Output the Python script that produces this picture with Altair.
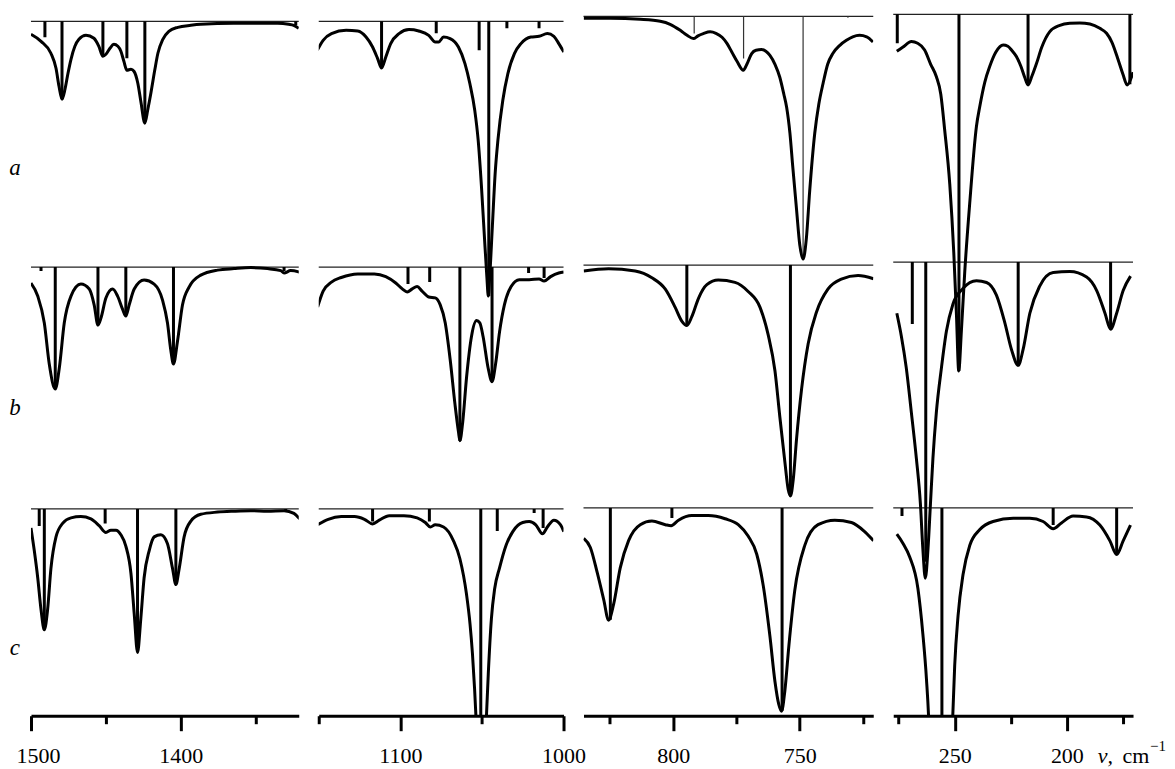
import altair as alt
import pandas as pd

# ---------------- data ----------------
# wavenumbers (cm^-1) and band depth below each spectrum's own zero line
# Panel 1 (1500-1320 cm-1)
P1A_V = [1500, 1493.3, 1486.7, 1483.3, 1481.3, 1479.3, 1477.3, 1475.3, 1473.3, 1470.7, 1468, 1463.3, 1458, 1454.7, 1452, 1450, 1447.3, 1444.7, 1442, 1440, 1438, 1436, 1433.3, 1431.3, 1428.7, 1426.7, 1424, 1422, 1420, 1417.3, 1415.3, 1412, 1408, 1402, 1393.3, 1386.7, 1364.7, 1346.7, 1335.3, 1328, 1324.7, 1321.3]
P1A_D = [13, 20, 32, 47, 65, 78, 68, 52, 38, 25, 18, 14, 17, 25, 35, 33, 27, 23, 25, 30, 40, 49, 48, 50, 62, 80, 102, 88, 72, 48, 32, 18, 10, 6, 4, 3, 2, 2, 2, 3, 4, 7]
P1B_V = [1500, 1495.5, 1491.1, 1487.8, 1483.8, 1481.1, 1477.8, 1473.3, 1466.7, 1461.1, 1457.8, 1455.3, 1453.3, 1450, 1445.5, 1442.2, 1438.9, 1436.7, 1434.5, 1431.1, 1424.5, 1417.8, 1412.2, 1408.9, 1406.7, 1404.9, 1402.2, 1398.9, 1394.5, 1386.7, 1375.5, 1364.5, 1353.3, 1342.2, 1333.3, 1331.1, 1326.7, 1320.7]
P1B_D = [16, 29, 56, 97, 122, 101, 56, 29, 17, 22, 38, 58, 51, 31, 22, 29, 42, 49, 38, 22, 13, 17, 33, 56, 83, 97, 74, 38, 20, 8, 3, 1.5, 0.5, 1.5, 3.5, 6, 3.5, 5]
P1C_V = [1500, 1497.8, 1495.5, 1493.3, 1491.1, 1488.9, 1486.7, 1483.3, 1478.9, 1473.3, 1466.7, 1460, 1454.5, 1450, 1446.7, 1443.3, 1440, 1436.7, 1433.3, 1431.1, 1428.9, 1426.7, 1424.5, 1421.1, 1417.8, 1413.3, 1408.9, 1405.5, 1403.3, 1401.1, 1397.8, 1393.3, 1386.7, 1375.5, 1364.5, 1353.3, 1342.2, 1331.1, 1324.5, 1320.7]
P1C_D = [19, 41.7, 68.9, 100.7, 121, 100.7, 59.8, 28, 14.5, 9, 7.7, 10, 16.8, 23.6, 21.3, 21.3, 25.8, 37.2, 64.4, 105, 143.7, 109.7, 68.9, 41.7, 28, 25.8, 34.9, 59.8, 75.7, 59.8, 28, 12.2, 5.4, 3.2, 2.3, 1.8, 2.3, 1.8, 4.5, 10]
P1A_SV = [1490.7, 1479.3, 1452, 1436, 1424, 1323.3]
P1A_SL = [16, 78, 35, 37, 100, 4]
P1B_SV = [1493.3, 1483.8, 1455.3, 1436.7, 1404.9, 1331.1]
P1B_SL = [4, 121, 56, 47, 97, 4]
P1C_SV = [1494.5, 1491.1, 1450.5, 1428.9, 1403.3, 1330]
P1C_SL = [17, 121, 14.5, 143, 75, 2]

# Panel 2 (1150-1000 cm-1)
P2A_V = [1150.9, 1147.3, 1142.2, 1133.2, 1126.1, 1121.0, 1117.0, 1113.9, 1111.5, 1108.9, 1105.9, 1100.8, 1094.7, 1088.7, 1082.6, 1078.6, 1076.5, 1073.5, 1069.5, 1064.4, 1060.4, 1057.4, 1054.4, 1052.3, 1050.3, 1048.5, 1047.0, 1046.1, 1045.2, 1043.6, 1041.8, 1040.2, 1037.2, 1034.1, 1030.1, 1026.1, 1020.0, 1015.0, 1009.9, 1005.9, 1002.9, 999.8]
P2A_D = [29, 19, 12.3, 9, 9.7, 15.7, 25.7, 37.3, 46.7, 35.7, 22.3, 12.3, 8.3, 9.7, 14, 20.7, 20.7, 15.7, 17.3, 25.7, 42.3, 62.3, 89, 119, 165, 215, 255, 275, 255, 205, 150, 119, 79, 52.3, 32.3, 22.3, 15.7, 15, 12.3, 15, 22.3, 30.7]
P2B_V = [1150.7, 1147.3, 1142.2, 1136.2, 1126.1, 1115.9, 1108.9, 1102.8, 1098.8, 1095.8, 1092.7, 1089.7, 1086.7, 1082.6, 1078.6, 1075.6, 1072.5, 1069.5, 1066.5, 1064.4, 1063.5, 1061.8, 1059.4, 1056.4, 1053.3, 1051.3, 1049.3, 1046.2, 1043.8, 1041.6, 1039.2, 1036.2, 1032.1, 1027.1, 1021.0, 1015.0, 1011.9, 1007.9, 1002.9, 999.8]
P2B_D = [40, 24, 15, 10.4, 6.8, 6.8, 9.5, 15.9, 21.8, 24.9, 21.8, 19.5, 24, 29.9, 30.8, 37.6, 55.8, 92, 137.4, 164.6, 173.7, 155.5, 110, 69.4, 53.5, 55.8, 69.4, 101, 114.7, 96.6, 64.8, 37.6, 19.5, 12.7, 12.7, 11.8, 14, 9.5, 5.9, 5]
P2C_V = [1150.7, 1144.2, 1136.2, 1128.1, 1122.0, 1117.0, 1112.9, 1106.8, 1097.8, 1089.7, 1084.7, 1081.6, 1078.6, 1073.5, 1067.5, 1063.5, 1059.4, 1057.3, 1055.8, 1054.5, 1053.6, 1052.7, 1048.2, 1047.3, 1046.1, 1044.2, 1042.2, 1039.2, 1035.2, 1031.1, 1025.0, 1021.0, 1017.0, 1012.9, 1009.9, 1005.9, 1001.8, 999.8]
P2C_D = [15.9, 10.4, 7.7, 7.7, 10.4, 15, 11.3, 6.8, 6.8, 9, 13.6, 18.1, 15.9, 18.1, 31.7, 49.9, 86, 115, 145, 180, 210, 240, 240, 210, 165, 110, 80, 59, 36.3, 22.7, 13.6, 12.7, 15.9, 24.9, 18.1, 11.3, 15.9, 22.7]
P2A_SV = [1111.5, 1078.0, 1051.7, 1045.8, 1034.7, 1015.0]
P2A_SL = [45, 12, 29, 275, 7, 7]
P2B_SV = [1095.3, 1082.0, 1063.5, 1043.8, 1021.4, 1011.9]
P2B_SL = [17, 15, 174, 114, 6, 11]
P2C_SV = [1117.0, 1082.2, 1050.7, 1040.6, 1018.0, 1012.5]
P2C_SL = [12.7, 12.7, 240, 22, 4, 19]

# Panel 3 (835-721 cm-1)
P3A_V = [835.3, 824.8, 813.0, 805.1, 801.2, 797.2, 794.5, 792.0, 790.2, 788.1, 785.4, 783.1, 780.7, 778.7, 776.8, 774.8, 772.3, 770.9, 769.0, 767.3, 765.1, 763.4, 761.8, 759.8, 757.9, 756.3, 755.2, 753.9, 752.8, 751.3, 750.0, 748.7, 747.4, 746.1, 744.1, 742.5, 740.8, 739.0, 736.9, 734.2, 731.6, 729.1, 726.4, 723.6, 721.1]
P3A_D = [2, 2, 3, 5, 8, 14, 19, 22.3, 19.5, 17.3, 15.5, 17, 21, 27.3, 36, 45, 54, 48, 37.3, 34, 33.3, 35, 39, 48, 61, 78, 91, 117, 150, 193, 229, 243, 222, 175, 117, 88, 67, 48, 37, 29, 24, 20.5, 19, 20.5, 25.7]
P3B_V = [835.3, 825.5, 815.0, 808.4, 803.1, 799.2, 796.6, 794.6, 792.6, 790.0, 786.7, 782.2, 775.6, 770.4, 765.7, 762.5, 759.8, 757.9, 755.9, 754.6, 753.7, 752.6, 751.3, 749.3, 746.7, 743.4, 738.9, 733.6, 727.0, 720.9]
P3B_D = [5.9, 3.6, 5.9, 12.7, 24.1, 42.3, 56, 60.5, 51.4, 33.2, 19.6, 15, 17.3, 26.4, 42.3, 69.6, 106, 151.5, 197, 224.3, 231, 215, 174.4, 124.2, 78.7, 46.9, 24.1, 14.1, 10.5, 13.7]
P3C_V = [835.3, 832.7, 830.0, 827.4, 825.5, 823.5, 820.9, 817.6, 813.0, 808.4, 803.1, 800.8, 797.9, 792.6, 786.1, 779.5, 774.3, 770.4, 767.0, 764.4, 761.8, 759.8, 758.3, 757.2, 755.9, 754.3, 752.0, 748.0, 742.8, 736.2, 729.6, 724.4, 720.9]
P3C_D = [30.5, 39.6, 64.6, 92, 112.4, 96.4, 60, 32.8, 16.8, 13.2, 16.8, 17.8, 12.3, 7.7, 7.7, 10.9, 16.8, 28.2, 46.4, 78.3, 128.4, 174, 196.7, 203.5, 183, 137.5, 82.8, 37.3, 16.8, 12.3, 14.6, 23.7, 32.8]
P3A_SV = [791.7, 772.2, 748.7, 731.0]
P3A_SL = [17.3, 42.3, 243, 1.5]
P3B_SV = [794.6, 753.7]
P3B_SL = [60.5, 231]
P3C_SV = [824.8, 800.5, 757.0]
P3C_SL = [112, 10, 203]

# Panel 4 (277-170 cm-1)
P4A_V = [275.8, 273.2, 269.3, 266.5, 263.4, 260.7, 258.2, 256.2, 254.5, 252.2, 250.4, 249.2, 248.2, 247.0, 245.5, 243.3, 240.3, 238.8, 236.6, 234.4, 231.7, 228.4, 226.3, 224.6, 222.5, 220.5, 218.8, 217.3, 215.6, 213.5, 211.2, 207.6, 203.1, 198.7, 194.2, 189.7, 185.3, 182.3, 179.9, 177.1, 175.0, 173.1, 171.1, 170.5]
P4A_D = [37, 33, 27.3, 29, 35.7, 50, 62.3, 80, 115, 170, 239, 302, 357, 316, 257, 189, 112, 92, 68, 52.3, 38, 30.7, 32, 36, 42.3, 52, 63, 70.7, 62, 49, 33, 17.3, 11, 9, 8.6, 9.7, 14, 19, 28, 45.7, 60, 70.7, 62.3, 58]
P4B_V = [275.8, 273.8, 271.6, 269.3, 267.1, 265.3, 264.2, 263.1, 261.9, 260.8, 259.7, 258.2, 255.9, 253.7, 250.8, 246.3, 240.3, 235.8, 231.4, 227.7, 224.7, 221.7, 219.5, 216.5, 212.1, 206.1, 198.7, 191.2, 186.7, 183.0, 180.5, 177.8, 174.9, 171.6]
P4B_D = [51.2, 73.9, 105.6, 150.9, 196.2, 241.5, 286.8, 316.3, 286.8, 241.5, 196.2, 150.9, 105.6, 69.3, 42.1, 26.3, 18.6, 20.4, 33.1, 60.3, 87.4, 103.3, 87.4, 51.2, 24, 10.4, 9.5, 15, 28.5, 51.2, 67.1, 51.2, 28.5, 14]
P4C_V = [275.8, 273.1, 270.1, 266.4, 264.2, 262.6, 261.5, 260.9, 251.6, 251.0, 250.0, 248.5, 246.3, 243.3, 238.8, 232.9, 223.9, 216.5, 210.6, 206.1, 202.4, 197.2, 191.2, 185.3, 180.8, 177.8, 174.9, 171.6]
P4C_D = [26.3, 35.3, 48.9, 80.6, 126, 171, 216.6, 260, 260, 216.6, 157.7, 107.8, 67, 37.6, 21.7, 13.6, 10.4, 10.4, 13.6, 20.8, 15, 8.2, 9, 17.2, 33, 46.7, 33, 17.2]
P4A_SV = [275.6, 248.1, 217.3, 171.9]
P4A_SL = [29, 357, 70, 70]
P4B_SV = [268.9, 262.9, 221.7, 180.5]
P4B_SL = [62, 300, 103, 67]
P4C_SV = [273.5, 255.7, 206.1, 177.8]
P4C_SL = [8, 260, 17, 47]

# vertical offsets of the zero line of spectra a, b, c in each panel
OFFSETS = [[13, 259, 501], [13, 259, 501], [8, 257, 500], [6, 254, 500]]
DOMAINS = [[1321.3, 1500], [1000, 1150], [721, 835.4], [170.5, 277.4]]
WIDTHS = [268, 245, 290, 240]
MAJOR = [[1500, 1400], [1100, 1000], [800, 750], [250, 200]]
MINOR = [[1450, 1350], [1150, 1050], [825, 775, 725], [275, 225, 175]]
ROW_LABELS = ["a", "b", "c"]
ROW_LABEL_Y = [160, 400, 640]

CURVES = [
    [(P1A_V, P1A_D), (P1B_V, P1B_D), (P1C_V, P1C_D)],
    [(P2A_V, P2A_D), (P2B_V, P2B_D), (P2C_V, P2C_D)],
    [(P3A_V, P3A_D), (P3B_V, P3B_D), (P3C_V, P3C_D)],
    [(P4A_V, P4A_D), (P4B_V, P4B_D), (P4C_V, P4C_D)],
]
STICKS = [
    [(P1A_SV, P1A_SL), (P1B_SV, P1B_SL), (P1C_SV, P1C_SL)],
    [(P2A_SV, P2A_SL), (P2B_SV, P2B_SL), (P2C_SV, P2C_SL)],
    [(P3A_SV, P3A_SL), (P3B_SV, P3B_SL), (P3C_SV, P3C_SL)],
    [(P4A_SV, P4A_SL), (P4B_SV, P4B_SL), (P4C_SV, P4C_SL)],
]

H = 708
FONT = "Liberation Serif"
FS = 22


def panel(i):
    base = OFFSETS[i]
    crv, thick, thin = [], [], []
    for r, (vs, ds) in enumerate(CURVES[i]):
        for v, d in zip(vs, ds):
            crv.append({"row": r, "v": v, "y": base[r] + d})
    for r, (vs, ls) in enumerate(STICKS[i]):
        for v, l in zip(vs, ls):
            rec = {"row": r, "v": v, "y": base[r], "y2": base[r] + l}
            (thin if (i == 2 and r == 0) else thick).append(rec)
    zero = pd.DataFrame({"y": base})

    majors = MAJOR[i]
    test = " || ".join(f"datum.value == {m}" for m in majors)
    axis_kw = dict(
        values=sorted(majors + MINOR[i]),
        title=None, grid=False, format="d",
        domainColor="black", domainWidth=3,
        tickColor="black", tickWidth=3,
        tickSize={"condition": {"test": test, "value": 15}, "value": 8},
        labelExpr=f"({test}) ? format(datum.value, 'd') : ''",
        labelFont=FONT, labelFontSize=FS, labelColor="black",
        labelPadding=15, labelBaseline="top", labelOverlap=False,
        labelFlush=False,
    )
    if i == 0:
        axis_kw["labelOffset"] = {"condition": {"test": "datum.value == 1500", "value": 7}, "value": 0}
    xs = alt.Scale(domain=DOMAINS[i], reverse=True, nice=False, zero=False)
    ys = alt.Scale(domain=[0, H], reverse=True, nice=False, zero=False)
    X = alt.X("v:Q", scale=xs, axis=alt.Axis(**axis_kw))
    Y = alt.Y("y:Q", scale=ys, axis=None)

    layers = [
        alt.Chart(zero).mark_rule(color="#222", strokeWidth=1.2).encode(y=Y),
        alt.Chart(pd.DataFrame(thick)).mark_rule(color="black", strokeWidth=3, clip=True)
        .encode(x=X, y=Y, y2="y2:Q"),
    ]
    if thin:
        layers.append(alt.Chart(pd.DataFrame(thin)).mark_rule(color="#333", strokeWidth=1.2, clip=True)
                      .encode(x=X, y=Y, y2="y2:Q"))
    layers.append(
        alt.Chart(pd.DataFrame(crv)).mark_line(color="black", strokeWidth=3, interpolate="monotone", clip=True)
        .encode(x=X, y=Y, detail="row:N", order=alt.Order("v:Q", sort="descending"))
    )
    if i == 0:
        lab = pd.DataFrame({"v": [1510.7] * 3, "y": ROW_LABEL_Y, "t": ROW_LABELS})
        layers.append(alt.Chart(lab).mark_text(font=FONT, fontStyle="italic", fontSize=23,
                                               align="center", baseline="middle", color="black")
                      .encode(x=X, y=Y, text="t:N"))
    if i == 3:
        t1 = pd.DataFrame({"v": [186.2], "y": [755], "t": ["ν,"]})
        t2 = pd.DataFrame({"v": [175.2], "y": [755], "t": ["cm"]})
        t3 = pd.DataFrame({"v": [162.9], "y": [743], "t": ["−1"]})
        layers.append(alt.Chart(t1).mark_text(font=FONT, fontStyle="italic", fontSize=FS, align="left",
                                              baseline="alphabetic", color="black").encode(x=X, y=Y, text="t:N"))
        layers.append(alt.Chart(t2).mark_text(font=FONT, fontSize=FS, align="left",
                                              baseline="alphabetic", color="black").encode(x=X, y=Y, text="t:N"))
        layers.append(alt.Chart(t3).mark_text(font=FONT, fontSize=15, align="left",
                                              baseline="alphabetic", color="black").encode(x=X, y=Y, text="t:N"))
    return alt.layer(*layers).properties(width=WIDTHS[i], height=H)


chart = alt.hconcat(*[panel(i) for i in range(4)], spacing=20, bounds="flush").properties(
    padding={"left": 1, "top": 0, "right": 0, "bottom": 0}
).configure_view(stroke=None).configure_axis(labelFont=FONT)

chart.save("out.html", embed_options={"renderer": "svg", "actions": False})
